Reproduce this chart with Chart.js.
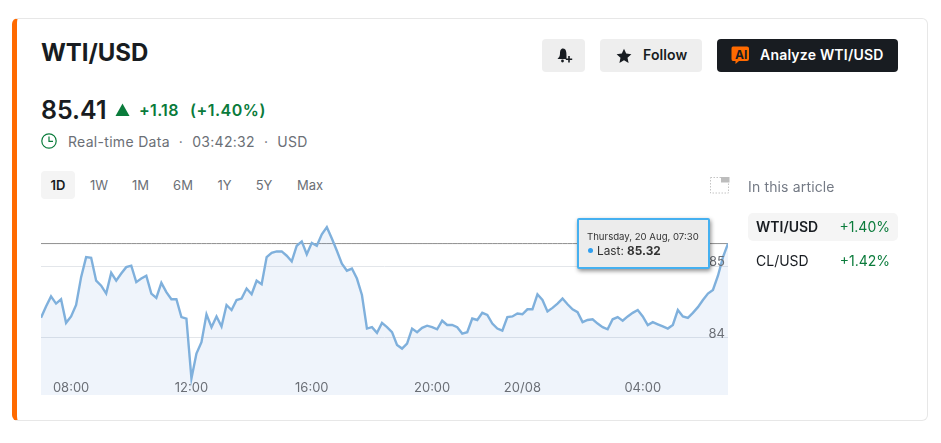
<!DOCTYPE html>
<html>
<head>
<meta charset="utf-8">
<title>WTI/USD</title>
<script src="https://cdn.jsdelivr.net/npm/chart.js@4/dist/chart.umd.min.js"></script>
<style>
html, body { margin: 0; padding: 0; background: #fff; }
body { width: 941px; height: 443px; position: relative; overflow: hidden; font-family: Inter, "Noto Sans", sans-serif; color: #181c21; }
.abs { position: absolute; white-space: nowrap; line-height: 1; }
.card { position: absolute; left: 12px; top: 18px; width: 916px; height: 403px; box-sizing: border-box; border: 1px solid #e7e7e7; border-left: 5px solid #ff6a00; border-radius: 6px; }
.btn { position: absolute; top: 39px; height: 33px; border-radius: 4px; background: #eeeeee; }
.range { position: absolute; top: 179px; font-size: 13px; line-height: 1; color: #6b6f76; transform: translateX(-50%); }
.green { color: #0a7b3b; }
#chartBox { position: absolute; left: 41px; top: 215px; width: 687px; height: 180px; }
#tip { position: absolute; left: 577px; top: 218px; width: 133px; height: 51px; box-sizing: border-box; background: #ececec; border: 2px solid #45b0f0; border-radius: 2px; box-shadow: 1px 2px 4px rgba(0,0,0,.45); }
</style>
</head>
<body>
<div class="card"></div>

<div class="abs" style="left:41px;top:41px;font-size:24px;font-weight:700;letter-spacing:-.05px;">WTI/USD</div>
<div class="abs" style="left:41px;top:98px;font-size:25px;font-weight:600;">85.41</div>
<svg class="abs" style="left:115px;top:103px" width="15" height="14"><path d="M7.5 0.5 L14.5 13 L0.5 13 Z" fill="#0a7b3b"/></svg>
<div class="abs green" style="left:139px;top:102px;font-size:16px;font-weight:600;letter-spacing:.3px;">+1.18</div>
<div class="abs green" style="left:190px;top:102px;font-size:16px;font-weight:600;letter-spacing:.5px;">(+1.40%)</div>
<svg class="abs" style="left:41px;top:133px" width="16" height="16" viewBox="0 0 16 16"><circle cx="8" cy="8" r="7.2" fill="none" stroke="#0a7b3b" stroke-width="1.2"/><path d="M8 3.6 V8.4 H12" fill="none" stroke="#0a7b3b" stroke-width="1.2"/></svg>
<div class="abs" style="left:68px;top:135px;font-size:14px;color:#6b6f76;letter-spacing:.3px;">Real-time Data<span style="margin:0 9px">·</span>03:42:32<span style="margin:0 9px">·</span>USD</div>

<div class="abs" style="left:41px;top:171px;width:34px;height:28px;border-radius:4px;background:#f4f4f4;"></div>
<div class="range" style="left:58px;color:#181c21;font-weight:600;">1D</div>
<div class="range" style="left:99px;">1W</div>
<div class="range" style="left:140.5px;">1M</div>
<div class="range" style="left:183px;">6M</div>
<div class="range" style="left:224.5px;">1Y</div>
<div class="range" style="left:264px;">5Y</div>
<div class="range" style="left:310px;">Max</div>

<div class="btn" style="left:542px;width:43px;"></div>
<svg class="abs" style="left:556px;top:47px" width="17" height="17" viewBox="0 0 17 17"><path d="M7 1.5 C4.6 1.5 4 4 4 6.5 C4 9 3 10.5 1.5 12 H10.5 L10.5 9 C10.5 6 10.5 1.5 7 1.5 Z" fill="#181c21"/><circle cx="6.5" cy="14" r="1.4" fill="#181c21"/><path d="M13 9 V15.5 M9.8 12.3 H16.2" stroke="#181c21" stroke-width="1.6"/></svg>
<div class="btn" style="left:600px;width:102px;"></div>
<svg class="abs" style="left:616px;top:48px" width="16" height="16" viewBox="0 0 16 16"><path d="M8 .8 L10.2 5.6 L15.4 6.2 L11.5 9.7 L12.6 14.9 L8 12.3 L3.4 14.9 L4.5 9.7 L.6 6.2 L5.8 5.6 Z" fill="#181c21"/></svg>
<div class="abs" style="left:643px;top:48px;font-size:14px;font-weight:600;letter-spacing:.1px;">Follow</div>
<div class="btn" style="left:717px;width:181px;background:#181c21;"></div>
<svg class="abs" style="left:731px;top:46px" width="20" height="19" viewBox="0 0 20 19"><path d="M2 .5 H16 Q18 .5 18 2.5 V13 Q18 15 16 15 H8 L4.5 18 V15 H2 Q.5 15 .5 13 V2.5 Q.5 .5 2 .5 Z" fill="#ff6a00"/></svg>
<div class="abs" style="left:735px;top:48.5px;font-size:12px;font-weight:700;color:#181c21;">AI</div>
<div class="abs" style="left:760px;top:48px;font-size:14px;font-weight:600;color:#fff;letter-spacing:.2px;">Analyze WTI/USD</div>

<div id="chartBox"><canvas id="priceChart" width="687" height="180"></canvas></div>

<div id="tip">
  <div class="abs" style="left:8px;top:12px;font-size:9.6px;color:#333;">Thursday, 20 Aug, 07:30</div>
  <div class="abs" style="left:9px;top:26px;font-size:11.8px;color:#333;"><span style="display:inline-block;width:5px;height:5px;border-radius:50%;background:#2f9ff0;margin-right:4px;vertical-align:2px;"></span>Last: <b>85.32</b></div>
</div>

<svg class="abs" style="left:710px;top:177px" width="20" height="17"><rect x=".5" y=".5" width="18" height="15.5" fill="none" stroke="#c4c4c4" stroke-dasharray="1.5 1.5"/><rect x="11" y="0" width="8.5" height="5.5" fill="#bdbdbd"/></svg>
<div class="abs" style="left:748px;top:180px;font-size:14px;color:#747a85;letter-spacing:.15px;">In this article</div>
<div class="abs" style="left:748px;top:213px;width:150px;height:28px;border-radius:5px;background:#f5f5f5;"></div>
<div class="abs" style="left:756px;top:220px;font-size:14px;font-weight:600;">WTI/USD</div>
<div class="abs green" style="right:51px;top:220px;font-size:14px;">+1.40%</div>
<div class="abs" style="left:756px;top:254px;font-size:14px;">CL/USD</div>
<div class="abs green" style="right:51px;top:254px;font-size:14px;">+1.42%</div>

<script>
// 10 minute closes
const prices = [
    84.28, 84.44, 84.58, 84.48, 84.54, 84.21, 84.30, 84.46, 84.85, 85.13,
    85.12, 84.80, 84.73, 84.62, 84.91, 84.80, 84.90, 84.99, 85.01, 84.78,
    84.83, 84.87, 84.62, 84.56, 84.77, 84.64, 84.54, 84.54, 84.29, 84.27,
    83.43, 83.78, 83.94, 84.33, 84.15, 84.30, 84.16, 84.46, 84.39, 84.53,
    84.55, 84.69, 84.61, 84.80, 84.75, 85.13, 85.19, 85.21, 85.21, 85.15,
    85.07, 85.29, 85.35, 85.17, 85.33, 85.29, 85.45, 85.55, 85.39, 85.22,
    85.04, 84.94, 84.97, 84.83, 84.60, 84.13, 84.15, 84.07, 84.21, 84.15,
    84.08, 83.90, 83.85, 83.92, 84.13, 84.08, 84.14, 84.17, 84.15, 84.12,
    84.24, 84.18, 84.18, 84.15, 84.06, 84.08, 84.27, 84.25, 84.35, 84.32,
    84.20, 84.13, 84.10, 84.29, 84.30, 84.34, 84.33, 84.40, 84.40, 84.61,
    84.53, 84.37, 84.42, 84.48, 84.55, 84.47, 84.40, 84.36, 84.22, 84.25,
    84.26, 84.20, 84.15, 84.12, 84.26, 84.29, 84.24, 84.30, 84.35, 84.39,
    84.30, 84.18, 84.22, 84.19, 84.16, 84.13, 84.18, 84.39, 84.30, 84.28,
    84.35, 84.43, 84.53, 84.62, 84.67, 84.87, 85.13, 85.32
];
const lastPrice = 85.32;
const tickIndexes = [6, 30, 54, 78, 96, 120];
const tickLabels = ["08:00", "12:00", "16:00", "20:00", "20/08", "04:00"];
const yTicks = [84, 85];
const yMin = 83.2;
const yMax = 85.72;

const labels = prices.map((p, i) => {
    const at = tickIndexes.indexOf(i);
    return at >= 0 ? tickLabels[at] : "";
});

new Chart(document.getElementById("priceChart"), {
    type: "line",
    data: {
        labels: labels,
        datasets: [
            {
                data: prices,
                borderColor: "#7fb0dc",
                backgroundColor: "rgba(95, 145, 215, 0.1)",
                borderWidth: 2.4,
                fill: "start",
                pointRadius: 0,
                tension: 0
            },
            {
                data: prices.map(() => lastPrice),
                borderColor: "#8f8f8f",
                borderWidth: 1,
                fill: false,
                pointRadius: 0
            }
        ]
    },
    options: {
        responsive: false,
        animation: false,
        layout: { padding: 0 },
        plugins: { legend: { display: false }, tooltip: { enabled: false } },
        scales: {
            x: {
                offset: false,
                grid: { display: false, drawTicks: false },
                border: { display: false },
                afterFit: s => { s.height = 0; s.paddingLeft = 0; s.paddingRight = 0; },
                ticks: {
                    mirror: true,
                    z: 1,
                    autoSkip: false,
                    maxRotation: 0,
                    padding: -1,
                    color: "#6b6f76",
                    font: { family: "Inter", size: 13 },
                    callback: function (v) { return this.getLabelForValue(v) || null; }
                }
            },
            y: {
                position: "right",
                min: yMin,
                max: yMax,
                afterBuildTicks: s => { s.ticks = yTicks.map(v => ({ value: v })); },
                afterFit: s => { s.width = 0; s.paddingTop = 0; s.paddingBottom = 0; },
                grid: { color: "#e3e6ea", drawTicks: false },
                border: { display: false },
                ticks: {
                    mirror: true,
                    z: 1,
                    autoSkip: false,
                    padding: -3,
                    labelOffset: -4,
                    color: "#6b6f76",
                    font: { family: "Inter", size: 13 },
                    callback: v => String(v)
                }
            }
        }
    }
});
</script>
</body>
</html>
